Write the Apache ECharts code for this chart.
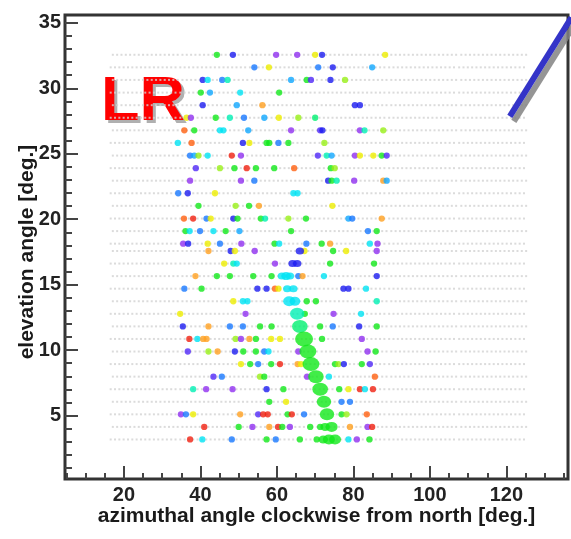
<!DOCTYPE html>
<html>
<head>
<meta charset="utf-8">
<script src="https://cdn.jsdelivr.net/npm/echarts@6/dist/echarts.min.js"></script>
<style>
  html, body { margin: 0; padding: 0; background: #ffffff; }
  #chart { width: 571px; height: 539px; }
</style>
</head>
<body>
<div id="chart"></div>
<script>
// Elevation of each PMT row (deg), lower ring rows 0-15, upper ring rows 16-31
const rowElevation = [
  3.17, 4.13, 5.09, 6.05, 7.01, 7.97, 8.93, 9.89,
  10.85, 11.81, 12.77, 13.73, 14.69, 15.65, 16.61, 17.57,
  18.13, 19.09, 20.05, 21.02, 21.98, 22.94, 23.90, 24.86,
  25.83, 26.79, 27.75, 28.71, 29.67, 30.64, 31.60, 32.56
];

// Camera centre azimuths (deg) and PMT column offsets within a camera (deg)
const cameraAzimuth = [25.3, 43.5, 61.7, 79.9, 98.1, 116.4];
const columnOffset = [
  -8.475, -7.345, -6.215, -5.085, -3.955, -2.825, -1.695, -0.565,
   0.565,  1.695,  2.825,  3.955,  5.085,  6.215,  7.345,  8.475
];
const rowStagger = [-0.28, 0.28];

// Triggered pixels: [row, azimuth (deg), time bin]
const hits = [
  [31,44.3,8],[31,48.5,2],[31,59.8,0],[31,65.3,0],[31,70.0,10],[31,71.8,2],[31,88.3,10],
  [30,54.1,3],[30,57.9,10],[30,70.8,3],[30,74.6,2],[30,84.9,4],
  [29,40.6,2],[29,41.9,5],[29,45.7,3],[29,47.1,6],[29,63.7,4],[29,67.8,8],[29,68.9,1],[29,74.0,2],[29,77.8,9],
  [28,40.1,8],[28,42.5,4],[28,50.4,5],[28,60.6,8],
  [27,40.6,2],[27,49.5,4],[27,56.2,11],[27,80.4,2],[27,81.7,2],
  [26,36.4,10],[26,37.5,0],[26,44.0,8],[26,47.7,6],[26,51.4,3],[26,56.7,4],[26,60.5,10],[26,65.6,9],[26,70.0,7],
  [25,35.8,12],[25,38.4,8],[25,45.1,5],[25,46.0,5],[25,52.5,4],[25,63.7,0],[25,71.3,1],[25,71.9,2],[25,81.7,0],[25,82.9,6],[25,87.8,9],
  [24,34.1,5],[24,37.7,12],[24,51.1,2],[24,52.8,10],[24,57.3,8],[24,58.0,8],[24,60.4,3],[24,63.0,8],[24,72.4,9],
  [23,37.3,3],[23,38.4,4],[23,39.5,9],[23,41.9,5],[23,48.2,13],[23,50.6,0],[23,70.7,1],[23,73.0,6],[23,74.3,4],[23,80.4,0],[23,81.7,10],[23,85.2,10],[23,87.4,8],[23,88.7,1],
  [22,38.8,1],[22,45.1,9],[22,48.9,8],[22,52.1,13],[22,54.5,8],[22,59.3,8],[22,64.5,12],[22,74.1,8],[22,75.1,9],
  [21,37.3,0],[21,50.6,0],[21,54.1,3],[21,73.4,2],[21,74.3,8],[21,75.6,6],[21,80.2,0],[21,87.8,11],[21,88.7,4],
  [20,34.2,3],[20,36.7,2],[20,43.8,10],[20,64.3,5],[20,65.4,5],
  [19,39.5,8],[19,49.2,9],[19,52.7,8],[19,55.3,11],[19,74.5,10],
  [18,35.7,12],[18,38.1,13],[18,41.6,3],[18,42.7,10],[18,48.6,2],[18,49.7,8],[18,55.8,8],[18,56.9,6],[18,63.0,9],[18,67.6,8],[18,78.7,4],[18,79.7,3],[18,87.4,11],
  [17,36.1,8],[17,37.2,5],[17,39.9,3],[17,43.4,5],[17,46.6,8],[17,50.2,4],[17,63.7,8],[17,83.8,3],[17,86.1,8],
  [16,35.5,0],[16,36.8,2],[16,41.9,10],[16,45.1,3],[16,50.7,0],[16,59.4,8],[16,60.6,5],[16,67.7,3],[16,71.7,8],[16,73.9,11],[16,84.3,5],[16,86.3,0],
  [15,42.1,11],[15,47.9,2],[15,49.0,10],[15,54.2,0],[15,67.2,10],[15,74.7,8],[15,78.1,10],[15,86.1,0],
  [14,46.2,10],[14,48.6,6],[14,49.5,5],[14,59.5,0],[14,73.9,8],[14,85.4,8],
  [13,38.7,11],[13,44.3,8],[13,47.7,8],[13,53.8,8],[13,58.6,8],[13,65.6,3],[13,66.7,11],[13,72.3,5],[13,86.1,2],
  [12,35.8,3],[12,40.3,8],[12,54.9,2],[12,57.3,2],[12,59.5,12],[12,60.4,10],[12,77.4,2],[12,78.7,2],[12,83.3,5],
  [11,48.6,10],[11,51.1,5],[11,52.3,5],[11,67.8,8],[11,70.2,8],[11,86.1,6],
  [10,34.7,10],[10,51.8,0],[10,67.3,8],[10,74.8,0],[10,82.0,5],
  [9,35.4,2],[9,42.1,11],[9,47.7,3],[9,51.1,3],[9,55.6,8],[9,58.6,8],[9,71.3,8],[9,74.6,3],[9,81.5,2],[9,86.1,8],
  [8,37.1,13],[8,39.2,5],[8,40.7,11],[8,41.6,11],[8,49.2,9],[8,50.6,0],[8,52.8,11],[8,54.5,8],[8,58.5,10],[8,60.8,10],[8,71.8,8],[8,82.2,0],
  [7,36.7,1],[7,42.1,9],[7,44.5,11],[7,49.0,2],[7,51.2,8],[7,54.5,8],[7,56.7,3],[7,57.8,5],[7,65.6,0],[7,83.7,0],[7,85.8,8],
  [6,50.6,10],[6,53.0,8],[6,55.1,3],[6,58.5,8],[6,60.8,13],[6,65.4,11],[6,66.3,10],[6,75.2,8],[6,76.1,9],[6,77.5,2],[6,82.2,8],[6,84.3,1],
  [5,43.4,1],[5,45.6,3],[5,55.6,9],[5,56.7,8],[5,67.9,0],[5,73.6,5],[5,85.6,12],
  [4,38.1,6],[4,41.5,0],[4,48.4,0],[4,57.3,2],[4,61.7,8],[4,76.3,8],[4,78.7,10],[4,81.7,13],[4,83.0,5],[4,85.1,13],
  [3,58.0,8],[3,62.4,10],[3,76.9,3],[3,79.1,3],
  [2,34.9,0],[2,36.2,3],[2,38.1,10],[2,50.4,11],[2,55.1,1],[2,56.4,13],[2,57.6,13],[2,62.8,8],[2,63.9,13],[2,67.1,3],[2,76.9,8],[2,78.2,9],[2,83.5,12],
  [1,41.0,13],[1,50.0,8],[1,53.6,0],[1,58.0,11],[1,60.3,13],[1,61.4,8],[1,63.4,0],[1,68.7,8],[1,71.3,8],[1,79.1,11],[1,83.7,0],[1,84.9,13],
  [0,37.3,13],[0,40.5,5],[0,48.2,3],[0,57.3,8],[0,59.7,3],[0,66.0,8],[0,70.4,8],[0,78.7,5],[0,80.9,0],[0,84.2,8]
];

// Shower track pixels: [row, azimuth (deg), time bin, signal]
const trackHits = [
  [15,66.0,2,3],
  [14,64.1,2,3],[14,65.3,2,3],
  [13,61.3,5,3],[13,62.4,5,4],[13,63.4,5,3],
  [12,62.7,5,3],[12,64.3,5,3],
  [11,63.2,5,6],[11,64.7,5,5],
  [10,65.3,6,8],
  [9,66.0,7,9],
  [8,67.1,8,11],
  [7,68.1,8,10],
  [6,68.9,8,10],
  [5,70.2,8,9],
  [4,71.3,8,9],
  [3,72.3,8,8],
  [2,73.1,8,8],
  [1,72.6,8,4],[1,74.3,8,6],
  [0,72.1,8,4],[0,73.6,8,6],[0,75.2,8,6]
];

// Shower-detector plane direction marker (azimuth, elevation)
const sdpLine = [[120.9, 27.85], [137.0, 35.4]];

// Axis tick values
const xMajorTicks = [20, 40, 60, 80, 100, 120];
const xMinorTicks = [5,10,15,20,25,30,35,40,45,50,55,60,65,70,75,80,85,90,95,100,105,110,115,120,125,130,135];
const yMajorTicks = [5, 10, 15, 20, 25, 30, 35];
const yMinorTicks = [1,2,3,4,5,6,7,8,9,10,11,12,13,14,15,16,17,18,19,20,21,22,23,24,25,26,27,28,29,30,31,32,33,34,35];

// Time-bin colour scale (early -> late)
const timePalette = [
  '#9030f0', '#5028f8', '#1c1cf0', '#1878ff', '#10a8ff', '#00e4f4', '#00f0b4',
  '#00f070', '#12e81a', '#98f018', '#eeee00', '#ffa020', '#ff6010', '#f02010'
];

const FONT = "'Liberation Sans', Arial, Helvetica, sans-serif";

// PMT grid of all six azimuth cameras in both rings
const pixelGrid = [];
rowElevation.forEach((el, r) => {
  cameraAzimuth.forEach(az0 => {
    columnOffset.forEach(off => {
      pixelGrid.push([az0 + off + rowStagger[r % 2], el]);
    });
  });
});

const hitData = hits.map(h => [h[1], rowElevation[h[0]], h[2], 2.3]);
const trackData = trackHits.map(h => [h[1], rowElevation[h[0]], h[2], h[3]]);

const chart = echarts.init(document.getElementById('chart'), null, { renderer: 'canvas' });

const tickStyle = { color: '#444', width: 2 };
const xRange = { min: 4.6, max: 136.1 };
const yRange = { min: 0.15, max: 35.6 };

chart.setOption({
  animation: false,
  backgroundColor: '#ffffff',
  grid: {
    left: 65, right: 3, top: 15, bottom: 60,
    show: true, borderColor: '#333333', borderWidth: 3, backgroundColor: '#ffffff'
  },
  xAxis: [
    {
      type: 'value', position: 'bottom', ...xRange,
      axisLine: { show: false }, splitLine: { show: false },
      axisTick: { show: true, inside: true, length: 13, customValues: xMajorTicks, lineStyle: tickStyle },
      axisLabel: { customValues: xMajorTicks, margin: 6, color: '#222', fontSize: 20, fontWeight: 'bold', fontFamily: FONT }
    },
    {
      type: 'value', position: 'bottom', ...xRange,
      axisLine: { show: false }, splitLine: { show: false },
      axisTick: { show: true, inside: true, length: 6, customValues: xMinorTicks, lineStyle: tickStyle },
      axisLabel: { show: false }
    }
  ],
  yAxis: [
    {
      type: 'value', position: 'left', ...yRange,
      axisLine: { show: false }, splitLine: { show: false },
      axisTick: { show: true, inside: true, length: 13, customValues: yMajorTicks, lineStyle: tickStyle },
      axisLabel: { customValues: yMajorTicks, margin: 4, color: '#222', fontSize: 20, fontWeight: 'bold', fontFamily: FONT }
    },
    {
      type: 'value', position: 'left', ...yRange,
      axisLine: { show: false }, splitLine: { show: false },
      axisTick: { show: true, inside: true, length: 7, customValues: yMinorTicks, lineStyle: tickStyle },
      axisLabel: { show: false }
    }
  ],
  graphic: [
    {
      type: 'text', x: 316.5, y: 516, z: 10,
      style: { text: 'azimuthal angle clockwise from north [deg.]', font: 'bold 21px ' + FONT,
               fill: '#1a1a1a', textAlign: 'center', textVerticalAlign: 'middle' }
    },
    {
      type: 'text', x: 27, y: 252, rotation: Math.PI / 2, z: 10,
      style: { text: 'elevation angle [deg.]', font: 'bold 21px ' + FONT,
               fill: '#1a1a1a', textAlign: 'center', textVerticalAlign: 'middle' }
    },
    {
      type: 'text', x: 104, y: 106, z: 20,
      style: { text: 'LR', font: 'bold 63px ' + FONT, fill: '#b0b0b0', textAlign: 'left', textVerticalAlign: 'middle' }
    },
    {
      type: 'text', x: 101, y: 103, z: 21,
      style: { text: 'LR', font: 'bold 63px ' + FONT, fill: '#ff0000', textAlign: 'left', textVerticalAlign: 'middle' }
    }
  ],
  series: [
    {
      type: 'scatter', name: 'PMT', data: pixelGrid, silent: true,
      symbol: 'rect', symbolSize: [2, 2],
      itemStyle: { color: '#d2d2d2' }, z: 2
    },
    {
      type: 'scatter', name: 'hits', data: hitData, silent: true,
      symbol: 'circle',
      symbolSize: v => 4 + v[3],
      itemStyle: { color: p => timePalette[p.value[2]] }, z: 3
    },
    {
      type: 'scatter', name: 'track', data: trackData, silent: true,
      symbol: 'circle',
      symbolSize: v => [(4 + v[3]) * 1.2, 4 + v[3]],
      itemStyle: { color: p => timePalette[p.value[2]] }, z: 4
    },
    {
      type: 'line', name: 'sdp', data: sdpLine, silent: true, clip: false,
      symbol: 'none',
      lineStyle: { color: '#3434c8', width: 6, cap: 'butt',
                   shadowColor: 'rgba(130,130,130,0.85)', shadowOffsetX: 4, shadowOffsetY: 5, shadowBlur: 0 },
      z: 5
    }
  ]
});
</script>
</body>
</html>
